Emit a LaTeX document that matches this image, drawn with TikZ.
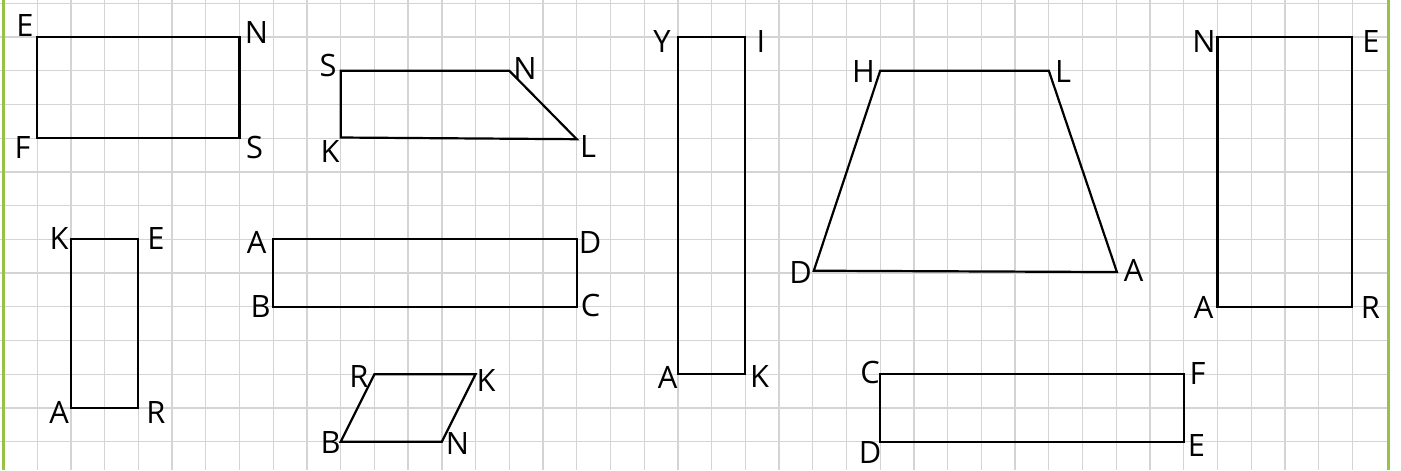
\documentclass[tikz,border=0pt]{standalone}
\usepackage{fontspec}
\setmainfont{Open Sans}
\definecolor{gridc}{RGB}{212,212,212}
\definecolor{greenb}{RGB}{150,195,70}
\begin{document}
\begin{tikzpicture}[x=0.029656cm,y=-0.029656cm,
  figline/.style={draw=black,line width=1.86pt,line join=miter},
  gridline/.style={draw=gridc,line width=1.1pt},
  border/.style={draw=greenb,line width=2.1pt},
  lbl/.style={font=\fontsize{26}{26}\selectfont,inner sep=0pt,anchor=center}]
\useasboundingbox (0,0) rectangle (1401,470);
\fill[white] (0,0) rectangle (1401,470);
% grid
\foreach \k in {1,...,40} \draw[gridline] ({3.5+33.72*\k},0) -- ({3.5+33.72*\k},470);
\foreach \j in {0,...,13} \draw[gridline] (0,{3.3+33.72*\j}) -- (1388.7,{3.3+33.72*\j});
\draw[border] (3.7,0) -- (3.7,470);
\draw[border] (1388.7,0) -- (1388.7,470);
% corners in grid units
\begin{scope}[shift={(3.5,3.3)},scale=33.72]
\coordinate (aE) at (1,1); \coordinate (aN) at (7,1); \coordinate (aS) at (7,4); \coordinate (aF) at (1,4);
\coordinate (bS) at (10,2); \coordinate (bN) at (15,2); \coordinate (bL) at (17,4.03); \coordinate (bK) at (10,3.98);
\coordinate (cK) at (2,7); \coordinate (cE) at (4,7); \coordinate (cR) at (4,12); \coordinate (cA) at (2,12);
\coordinate (dA) at (8,7); \coordinate (dD) at (17,7); \coordinate (dC) at (17,9); \coordinate (dB) at (8,9);
\coordinate (eR) at (11,11); \coordinate (eK) at (14,11); \coordinate (eN) at (13,13); \coordinate (eB) at (10,13);
\coordinate (fY) at (20,1); \coordinate (fI) at (22,1); \coordinate (fK) at (22,11); \coordinate (fA) at (20,11);
\coordinate (gH) at (26,2); \coordinate (gL) at (31,2); \coordinate (gA) at (33.02,7.97); \coordinate (gD) at (24.03,7.93);
\coordinate (hN) at (36,1); \coordinate (hE) at (40,1); \coordinate (hR) at (40,9); \coordinate (hA) at (36,9);
\coordinate (iC) at (26,11); \coordinate (iF) at (35,11); \coordinate (iE) at (35,13); \coordinate (iD) at (26,13);
\end{scope}
% figures
\draw[figline] (aE) -- (aN) -- (aS) -- (aF) -- cycle;
\draw[figline] (bS) -- (bN) -- (bL) -- (bK) -- cycle;
\draw[figline] (cK) -- (cE) -- (cR) -- (cA) -- cycle;
\draw[figline] (dA) -- (dD) -- (dC) -- (dB) -- cycle;
\draw[figline] (eR) -- (eK) -- (eN) -- (eB) -- cycle;
\draw[figline] (fY) -- (fI) -- (fK) -- (fA) -- cycle;
\draw[figline] (gH) -- (gL) -- (gA) -- (gD) -- cycle;
\draw[figline] (hN) -- (hE) -- (hR) -- (hA) -- cycle;
\draw[figline] (iC) -- (iF) -- (iE) -- (iD) -- cycle;
% labels
\node[lbl] (laE) at (25,25) {E};
\node[lbl] (laN) at (256.5,32) {N};
\node[lbl] (laF) at (22.5,147.5) {F};
\node[lbl] (laS) at (254.5,147) {S};
\node[lbl] (lbS) at (328,65) {S};
\node[lbl] (lbN) at (525,68) {N};
\node[lbl] (lbL) at (588,146) {L};
\node[lbl] (lbK) at (330,151) {K};
\node[lbl] (lcK) at (59,238) {K};
\node[lbl] (lcE) at (156,238) {E};
\node[lbl] (lcA) at (59,412) {A};
\node[lbl] (lcR) at (156,412) {R};
\node[lbl] (ldA) at (256.5,242) {A};
\node[lbl] (ldD) at (590,242) {D};
\node[lbl] (ldB) at (260.5,306) {B};
\node[lbl] (ldC) at (590.5,305) {C};
\node[lbl] (leR) at (359,376) {R};
\node[lbl] (leK) at (486,380) {K};
\node[lbl] (leB) at (330.5,442) {B};
\node[lbl] (leN) at (457.5,443) {N};
\node[lbl] (lfY) at (662,41) {Y};
\node[lbl] (lfI) at (761,41) {I};
\node[lbl] (lfA) at (667.5,377) {A};
\node[lbl] (lfK) at (759.5,376) {K};
\node[lbl] (lgH) at (863.5,71) {H};
\node[lbl] (lgL) at (1063,71) {L};
\node[lbl] (lgD) at (800.5,272.5) {D};
\node[lbl] (lgA) at (1133.5,270) {A};
\node[lbl] (lhN) at (1204,41) {N};
\node[lbl] (lhE) at (1371,41) {E};
\node[lbl] (lhA) at (1203.5,307) {A};
\node[lbl] (lhR) at (1370.5,307) {R};
\node[lbl] (liC) at (870,372.5) {C};
\node[lbl] (liF) at (1197.5,373) {F};
\node[lbl] (liD) at (870,452.5) {D};
\node[lbl] (liE) at (1196.5,445) {E};
\end{tikzpicture}
\end{document}
